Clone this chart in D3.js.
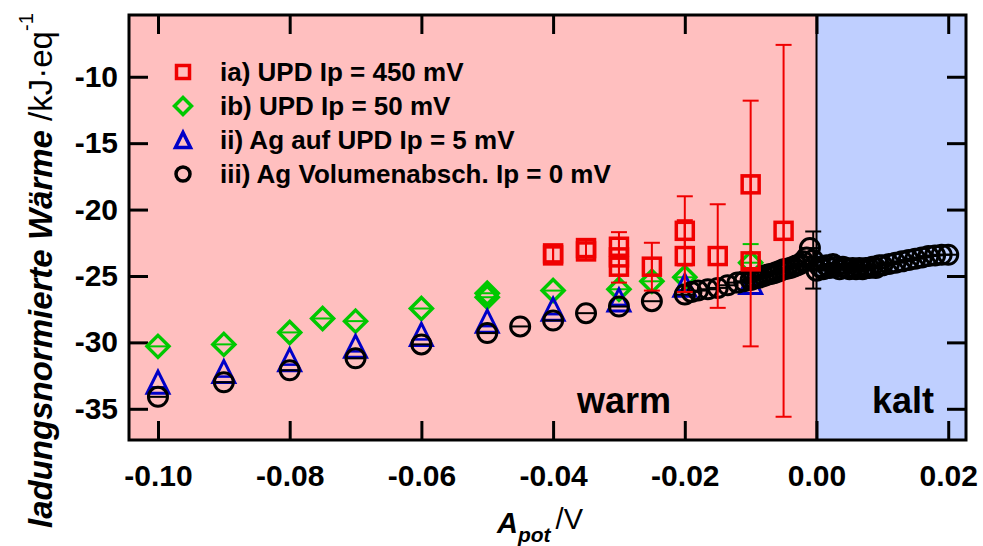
<!DOCTYPE html>
<html><head><meta charset="utf-8">
<script src="https://cdn.jsdelivr.net/npm/d3@7"></script>
<style>body{margin:0;background:#fff} text{font-family:Arial,"Liberation Sans",sans-serif}</style>
</head><body><svg id="c" width="983" height="546"></svg>
<script>
// ---- data ----
const xTicks = [-0.10, -0.08, -0.06, -0.04, -0.02, 0.00, 0.02];
const yTicks = [-35, -30, -25, -20, -15, -10];
const seriesNames = ["ia) UPD Ip = 450 mV", "ib) UPD Ip = 50 mV", "ii) Ag auf UPD Ip = 5 mV", "iii) Ag Volumenabsch. Ip = 0 mV"];
const regionLabels = ["warm", "kalt"];

const iaX   = [-0.04, -0.04, -0.035, -0.035, -0.03, -0.03, -0.03, -0.025, -0.02, -0.02, -0.015, -0.01, -0.01, -0.005];
const iaY   = [-23.3, -23.45, -22.9, -23.15, -22.8, -23.6, -24.3, -24.3, -21.6, -23.5, -23.5, -18.1, -23.9, -21.6];
const iaErr = [0, 0, 0, 0, 0, 1.9, 0, 1.8, 2.6, 2.7, 3.9, 6.3, 6.4, 14.0];

const ibX   = [-0.10, -0.09, -0.08, -0.075, -0.07, -0.06, -0.05, -0.05, -0.04, -0.03, -0.025, -0.02, -0.01];
const ibY   = [-30.3, -30.15, -29.25, -28.2, -28.4, -27.45, -26.3, -26.6, -26.1, -26.0, -25.4, -25.1, -24.0];
const ibErr = [0, 0, 0, 0, 0, 0, 0, 0, 0, 0, 0, 0, 1.4];

const iiX = [-0.10, -0.09, -0.08, -0.07, -0.06, -0.05, -0.04, -0.03, -0.02, -0.01];
const iiY = [-33.0, -32.2, -31.3, -30.3, -29.4, -28.4, -27.5, -26.8, -25.7, -25.5];

const iiiX = [-0.10, -0.09, -0.08, -0.07, -0.06, -0.05, -0.045, -0.04, -0.035, -0.03, -0.025, -0.02,
  -0.019, -0.018, -0.0165, -0.015, -0.0135, -0.012, -0.011, -0.010, -0.0095, -0.009, -0.0085, -0.008,
  -0.0075, -0.007, -0.0065, -0.006, -0.0055, -0.005, -0.0045, -0.004, -0.0035, -0.003, -0.0025, -0.002,
  -0.0015, -0.001, -0.0005, 0.0,
  0.0005, 0.001, 0.0015, 0.002, 0.0025, 0.003, 0.0035, 0.004, 0.0045, 0.005, 0.0055, 0.006, 0.0065,
  0.007, 0.0075, 0.008, 0.0085, 0.009, 0.0095, 0.010, 0.011, 0.012, 0.013, 0.014, 0.015, 0.016,
  0.017, 0.018, 0.019, 0.020];
const iiiY = [-34.1, -33.0, -32.1, -31.2, -30.15, -29.3, -28.8, -28.35, -27.8, -27.3, -26.9, -26.4,
  -26.2, -26.1, -26.0, -25.9, -25.7, -25.5, -25.4, -25.3, -25.2, -25.15, -25.1, -25.0,
  -24.9, -24.85, -24.8, -24.7, -24.6, -24.5, -24.45, -24.4, -24.3, -24.2, -24.1, -23.9,
  -23.6, -22.9, -23.8, -24.6,
  -24.3, -24.5, -24.2, -24.4, -24.1, -24.3, -24.5, -24.3, -24.4, -24.5, -24.4, -24.5, -24.4,
  -24.5, -24.4, -24.4, -24.3, -24.4, -24.2, -24.2, -24.1, -24.0, -23.9, -23.8, -23.7, -23.6,
  -23.5, -23.45, -23.4, -23.4];
const iiiErrIndex = [38];
const iiiErrVal = [2.15];

// ---- layout ----
const W = 983, H = 546;
const L = 129, R = 966, T = 15, B = 440;
const svg = d3.select("#c");
const x = d3.scaleLinear().domain([-0.1044, 0.0227]).range([L, R]);
const y = d3.scaleLinear().domain([-37.35, -5.35]).range([B, T]);

const RED = "#f00000", GREEN = "#00c800", BLUE = "#0000c8", BLACK = "#000";

// backgrounds
svg.append("rect").attr("x", L).attr("y", T).attr("width", x(0) - L).attr("height", B - T).attr("fill", "#ffbfbf");
svg.append("rect").attr("x", x(0)).attr("y", T).attr("width", R - x(0)).attr("height", B - T).attr("fill", "#bfcfff");
svg.append("line").attr("x1", x(0)).attr("x2", x(0)).attr("y1", T).attr("y2", B).attr("stroke", "#000").attr("stroke-width", 2);

// region labels
svg.append("text").attr("x", 577).attr("y", 413).attr("font-size", 36).attr("font-weight", "bold").text(regionLabels[0]);
svg.append("text").attr("x", 872).attr("y", 413).attr("font-size", 36).attr("font-weight", "bold").text(regionLabels[1]);

// axes
const fmtX = d => d.toFixed(2);
const fmtY = d => String(d);
const gx = svg.append("g").attr("transform", `translate(0,${B})`)
  .call(d3.axisBottom(x).tickValues(xTicks).tickFormat(fmtX).tickSize(-19).tickPadding(25));
const gy = svg.append("g").attr("transform", `translate(${L},0)`)
  .call(d3.axisLeft(y).tickValues(yTicks).tickFormat(fmtY).tickSize(-19).tickPadding(11));
const gt = svg.append("g").attr("transform", `translate(0,${T})`)
  .call(d3.axisTop(x).tickValues(xTicks).tickFormat("").tickSize(-19));
const gr = svg.append("g").attr("transform", `translate(${R},0)`)
  .call(d3.axisRight(y).tickValues(yTicks).tickFormat("").tickSize(-19));
[gx, gy, gt, gr].forEach(g => {
  g.select(".domain").remove();
  g.selectAll(".tick line").attr("stroke", "#000").attr("stroke-width", 3);
  g.selectAll(".tick text").attr("fill", "#000").attr("font-size", 30).attr("font-weight", "bold")
    .attr("font-family", "Arial, 'Liberation Sans', sans-serif");
});
svg.append("rect").attr("x", L).attr("y", T).attr("width", R - L).attr("height", B - T)
  .attr("fill", "none").attr("stroke", "#000").attr("stroke-width", 3);

// axis titles
const yl = svg.append("text").attr("transform", `translate(52,528) rotate(-90)`).attr("font-size", 33);
yl.append("tspan").attr("font-weight", "bold").attr("font-style", "italic").text("ladungsnormierte Wärme ");
yl.append("tspan").text("/kJ·eq");
yl.append("tspan").attr("font-size", 20).attr("dy", "-0.95em").text("-1");

const xl = svg.append("text").attr("x", 497).attr("y", 533).attr("font-size", 29);
xl.append("tspan").attr("font-weight", "bold").attr("font-style", "italic").text("A");
xl.append("tspan").attr("font-weight", "bold").attr("font-style", "italic").attr("font-size", 21).attr("dy", "0.45em").text("pot");
xl.append("tspan").attr("dy", "-0.45em").attr("dx", 5).text("/V");

// marker helpers
function sq(g, cx, cy, s, c, sw) {
  g.append("rect").attr("x", cx - s / 2).attr("y", cy - s / 2).attr("width", s).attr("height", s)
    .attr("fill", "none").attr("stroke", c).attr("stroke-width", sw);
}
function dia(g, cx, cy, r, c, sw) {
  g.append("path").attr("d", `M${cx},${cy - r}L${cx + r},${cy}L${cx},${cy + r}L${cx - r},${cy}Z`)
    .attr("fill", "none").attr("stroke", c).attr("stroke-width", sw);
}
function tri(g, cx, cy, r, c, sw) {
  g.append("path").attr("d", `M${cx},${cy - r}L${cx + r},${cy + r}L${cx - r},${cy + r}Z`)
    .attr("fill", "none").attr("stroke", c).attr("stroke-width", sw);
}
function circ(g, cx, cy, r, c, sw) {
  g.append("circle").attr("cx", cx).attr("cy", cy).attr("r", r).attr("fill", "none").attr("stroke", c).attr("stroke-width", sw);
}
function hline(g, cx, cy, r, c, sw) {
  g.append("line").attr("x1", cx - r).attr("x2", cx + r).attr("y1", cy).attr("y2", cy).attr("stroke", c).attr("stroke-width", sw);
}
function errbar(g, cx, yv, e, c) {
  if (!(e > 0)) return;
  const y1 = y(yv + e), y2 = y(yv - e);
  g.append("line").attr("x1", cx).attr("x2", cx).attr("y1", y1).attr("y2", y2).attr("stroke", c).attr("stroke-width", 2);
  g.append("line").attr("x1", cx - 8).attr("x2", cx + 8).attr("y1", y1).attr("y2", y1).attr("stroke", c).attr("stroke-width", 2);
  g.append("line").attr("x1", cx - 8).attr("x2", cx + 8).attr("y1", y2).attr("y2", y2).attr("stroke", c).attr("stroke-width", 2);
}

const plot = svg.append("g");
// green diamonds
const gG = plot.append("g");
ibX.forEach((v, i) => {
  const cx = x(v), cy = y(ibY[i]);
  errbar(gG, cx, ibY[i], ibErr[i], GREEN);
  dia(gG, cx, cy, 11, GREEN, 3.5);
  hline(gG, cx, cy, 9, GREEN, 2);
});
// blue triangles
const gB = plot.append("g");
iiX.forEach((v, i) => {
  const cx = x(v), cy = y(iiY[i]);
  tri(gB, cx, cy, 11, BLUE, 3);
  hline(gB, cx, cy + 5, 8, BLUE, 2.5);
});
// black circles
const gK = plot.append("g");
iiiX.forEach((v, i) => {
  const cx = x(v), cy = y(iiiY[i]);
  const k = iiiErrIndex.indexOf(i);
  if (k >= 0) errbar(gK, cx, iiiY[i], iiiErrVal[k], BLACK);
  circ(gK, cx, cy, 9.5, BLACK, 3);
  hline(gK, cx, cy, 9.5, BLACK, 2);
});
// red squares
const gR = plot.append("g");
iaX.forEach((v, i) => {
  const cx = x(v), cy = y(iaY[i]);
  errbar(gR, cx, iaY[i], iaErr[i], RED);
  sq(gR, cx, cy, 17, RED, 3.5);
  gR.append("line").attr("x1", cx).attr("x2", cx).attr("y1", cy - 8.5).attr("y2", cy + 8.5).attr("stroke", RED).attr("stroke-width", 2);
});

// legend
const leg = svg.append("g");
const legY = [72, 106, 140, 174];
seriesNames.forEach((n, i) => {
  const cx = 183, cy = legY[i];
  if (i === 0) sq(leg, cx, cy, 13, RED, 3.5);
  if (i === 1) dia(leg, cx, cy, 8.5, GREEN, 3.5);
  if (i === 2) tri(leg, cx, cy, 7.5, BLUE, 3.5);
  if (i === 3) circ(leg, cx, cy, 7, BLACK, 3.5);
  leg.append("text").attr("x", 220).attr("y", cy + 9).attr("font-size", 26).attr("font-weight", "bold").text(n);
});
</script></body></html>
